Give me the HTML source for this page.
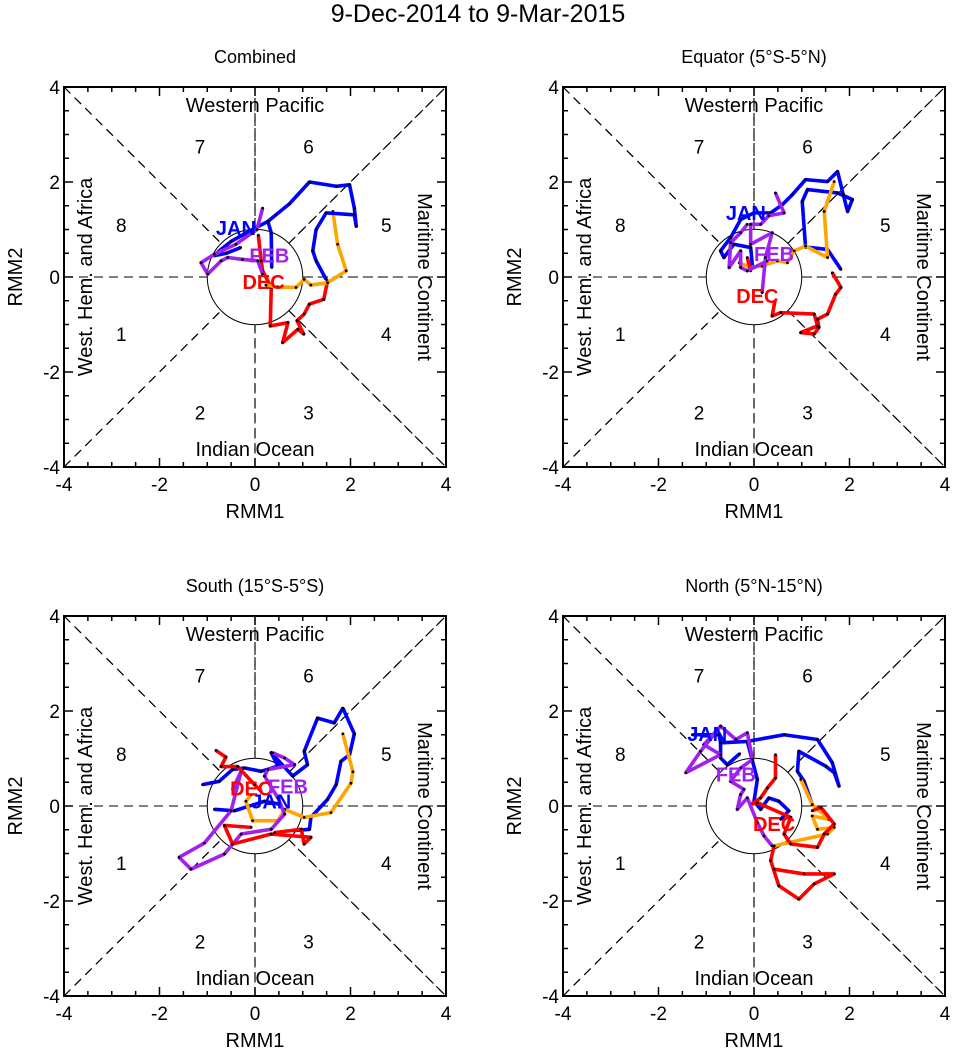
<!DOCTYPE html>
<html><head><meta charset="utf-8">
<style>
html,body{margin:0;padding:0;background:#fff;}
svg{display:block;font-family:"Liberation Sans",Arial,sans-serif;}
</style></head>
<body>
<svg id="chart" width="956" height="1057" viewBox="0 0 956 1057" xmlns="http://www.w3.org/2000/svg">
<text x="478" y="22" font-size="25" text-anchor="middle">9-Dec-2014 to 9-Mar-2015</text>
</svg>
<script>
// ---- data (RMM1, RMM2 pairs) ----
const panelTitles = ["Combined", "Equator (5°S-5°N)", "South (15°S-5°S)", "North (5°N-15°N)"];
const tickValues = [-4, -2, 0, 2, 4];
const phaseLabels = ["1","2","3","4","5","6","7","8"];

const p1Red = [[0.07,0.88],[0.13,0.34],[0.16,0.13],[0.34,-0.22],[0.32,-1.03],[0.69,-0.96],[0.58,-1.38],[0.90,-1.10],[1.02,-1.20],[0.88,-0.92],[1.03,-0.78],[1.14,-0.57],[1.44,-0.47],[1.52,-0.08]];
const p1Orange = [[1.63,1.38],[1.73,0.69],[1.91,0.13],[1.52,-0.12],[1.17,-0.17],[1.03,-0.05],[0.86,-0.22],[0.47,-0.21],[0.23,-0.17]];
const p1Blue = [[1.49,-0.05],[1.28,0.34],[1.21,0.55],[1.28,1.0],[1.49,1.35],[2.08,1.31],[2.12,1.07],[2.08,1.45],[1.98,1.94],[1.70,1.91],[1.14,2.0],[0.72,1.54],[0.44,1.31],[0.27,1.17],[0.34,0.93],[0.35,0.20]];
const p1Blue2 = [[0.27,1.17],[-0.05,1.0],[-0.5,0.75],[-0.75,0.55],[-0.85,0.45],[-0.6,0.5],[-0.3,0.62]];
const p1Purple = [[0.16,1.45],[0.04,1.0],[-0.4,0.69],[-0.85,0.48],[-1.13,0.3],[-0.99,0.06],[-0.71,0.34],[-0.57,0.41],[-0.26,0.37],[0.06,0.34],[0.16,0.06]];

const p2Blue = [[1.82,0.16],[1.54,0.58],[1.08,0.63],[1.01,1.59],[1.12,1.84],[1.75,1.77],[2.06,1.63],[1.96,1.38],[1.87,1.73],[1.75,2.22],[1.54,2.01],[1.08,2.05],[0.80,1.73],[0.59,1.52],[0.35,1.35],[0.0,1.35],[-0.28,1.21],[-0.49,0.83],[-0.70,0.55],[-0.63,0.41],[-0.42,0.69],[-0.07,0.62],[-0.03,0.20]];
const p2Orange = [[1.68,2.01],[1.47,1.38],[1.54,0.41],[1.08,0.65],[0.84,0.55],[0.70,0.30],[0.49,0.34],[0.17,0.23],[-0.07,0.20],[-0.31,0.30]];
const p2Red = [[1.64,0.09],[1.82,-0.22],[1.71,-0.36],[1.54,-0.78],[1.33,-0.89],[1.36,-1.06],[1.26,-1.20],[0.98,-1.17],[1.33,-1.03],[1.26,-0.78],[0.56,-0.75],[0.38,-0.82],[0.44,-0.50]];
const p2Red2 = [[-0.14,0.41],[-0.07,0.13]];
const p2Purple = [[0.45,1.77],[0.63,1.35],[0.31,1.29],[0.14,1.11],[-0.07,1.11],[-0.07,0.69],[0.38,0.93],[0.24,0.41],[0.17,-0.33]];
const p2Purple2 = [[-0.14,1.11],[-0.28,0.93],[-0.49,0.72],[-0.52,0.20],[-0.28,0.55],[-0.28,0.20],[-0.14,0.13],[0.28,0.34]];

const p3Blue = [[1.84,2.06],[2.08,1.52],[1.98,1.08],[1.80,0.94],[1.70,0.45],[1.52,0.14],[1.17,-0.24],[1.14,-0.49],[0.79,-0.52]];
const p3Blue2 = [[1.84,2.06],[1.66,1.75],[1.31,1.85],[1.03,1.15],[1.10,0.87],[0.79,0.63],[0.34,1.12],[0.48,0.84],[0.13,0.73],[-0.22,0.80],[-0.47,0.77],[-0.75,0.52],[-1.10,0.45]];
const p3Blue3 = [[-0.85,-0.07],[-0.43,-0.10],[0.20,0.10],[0.55,0.03]];
const p3Orange = [[1.84,1.52],[2.05,0.72],[2.01,0.48],[1.59,-0.14],[1.03,-0.24],[0.62,-0.07],[0.48,-0.31],[-0.05,-0.31],[-0.19,0.10],[-0.08,0.24]];
const p3Purple = [[-1.59,-1.08],[-1.34,-1.33],[-0.64,-1.01],[-0.29,-0.59],[0.34,-0.49],[0.62,-0.17],[0.48,0.17],[0.20,0.63],[0.27,0.77],[0.83,0.87],[0.62,1.01],[0.37,1.12]];
const p3Purple2 = [[-1.59,-1.08],[-1.06,-0.78],[-0.50,-0.10],[-0.29,0.73],[-0.47,0.35]];
const p3Red = [[-0.82,1.17],[-0.61,1.03],[-0.71,0.83],[-0.36,0.83],[-0.01,0.45],[0.13,0.31]];
const p3Red2 = [[-0.08,-0.45],[-0.64,-0.41],[-0.47,-0.80],[0.34,-0.59],[1.17,-0.66],[1.03,-0.80],[0.97,-0.49],[0.41,-0.56]];

const p4Blue = [[-1.29,1.50],[-0.73,1.50],[-0.70,1.33],[-0.14,1.36],[0.63,1.50],[1.33,1.40],[1.64,0.91],[1.78,0.42],[1.68,0.70],[1.50,0.84],[0.94,1.15],[0.91,0.73],[1.05,0.52],[1.22,0.03]];
const p4Blue2 = [[-0.14,1.36],[-0.03,0.94],[0.07,0.56],[0.0,0.10],[0.14,-0.07],[0.31,0.17],[0.52,0.10],[0.73,-0.10],[0.56,-0.28]];
const p4Blue3 = [[-0.70,1.33],[-0.70,1.01],[-0.56,0.87],[-0.3,1.1]];
const p4Orange = [[0.98,0.56],[1.22,0.03],[1.57,-0.28],[1.22,-0.21],[1.33,-0.49],[1.68,-0.45],[1.54,-0.59],[0.42,-0.84]];
const p4Red = [[0.45,1.08],[0.45,0.59],[0.28,0.38],[0.14,0.17],[-0.07,0.03],[0.07,0.07],[0.77,-0.24],[0.63,-0.59],[0.77,-0.80],[1.33,-0.87],[1.47,-0.59],[1.68,-0.38],[1.40,-0.03],[1.22,-0.10]];
const p4Red2 = [[0.42,-0.84],[0.35,-1.15],[0.52,-1.68],[0.94,-1.96],[1.26,-1.64],[1.68,-1.43],[1.05,-1.43],[0.42,-1.33]];
const p4Purple = [[-1.43,0.70],[-0.70,1.08],[-1.05,1.29],[-0.70,1.68],[-0.38,1.40],[-0.14,1.54],[-0.03,0.98],[-0.28,0.80],[-0.49,0.52],[-0.21,0.35],[-0.28,0.24],[-0.35,-0.07],[-0.14,0.17],[0.07,-0.35],[0.21,-0.63],[0.38,-0.84]];
const p4Purple2 = [[-1.43,0.70],[-1.12,1.15],[-0.70,1.68]];

const series = [
 [["#ff0000",p1Red],["#ffa500",p1Orange],["#0000ff",p1Blue],["#0000ff",p1Blue2],["#a020f0",p1Purple]],
 [["#0000ff",p2Blue],["#ffa500",p2Orange],["#ff0000",p2Red],["#ff0000",p2Red2],["#a020f0",p2Purple],["#a020f0",p2Purple2]],
 [["#0000ff",p3Blue],["#0000ff",p3Blue2],["#0000ff",p3Blue3],["#ffa500",p3Orange],["#a020f0",p3Purple],["#a020f0",p3Purple2],["#ff0000",p3Red],["#ff0000",p3Red2]],
 [["#0000ff",p4Blue],["#0000ff",p4Blue2],["#0000ff",p4Blue3],["#ffa500",p4Orange],["#ff0000",p4Red],["#ff0000",p4Red2],["#a020f0",p4Purple],["#a020f0",p4Purple2]]
];
// month labels [text, color, x, y]
const monthLabels = [
 [["JAN","#0000ff",-0.4,1.03],["FEB","#a020f0",0.3,0.45],["DEC","#ff0000",0.18,-0.1]],
 [["JAN","#0000ff",-0.17,1.35],["FEB","#a020f0",0.42,0.48],["DEC","#ff0000",0.07,-0.40]],
 [["DEC","#ff0000",-0.08,0.37],["FEB","#a020f0",0.69,0.41],["JAN","#0000ff",0.34,0.10]],
 [["JAN","#0000ff",-0.98,1.52],["FEB","#a020f0",-0.38,0.66],["DEC","#ff0000",0.42,-0.38]]
];

const NS = "http://www.w3.org/2000/svg";
const svg = document.getElementById("chart");
const origins = [[64,87],[563,87],[64,616],[563,616]];
const W = 382, H = 380;
function mk(tag, attrs, parent){ const e=document.createElementNS(NS,tag); for(const k in attrs) e.setAttribute(k,attrs[k]); (parent||svg).appendChild(e); return e; }

origins.forEach((o,pi)=>{
  const g = mk("g",{});
  
  
  const sx = v => o[0] + (v+4)/8*W;
  const sy = v => o[1] + (4-v)/8*H;
  const cx = sx(0), cy = sy(0);
  const t = mk("text",{x:cx,y:o[1]-24,"font-size":18,"text-anchor":"middle"},g); t.textContent = panelTitles[pi];
  
  
  const dash = {stroke:"#000","stroke-width":1.1,"stroke-dasharray":"9,6",fill:"none"};
  [[sx(-4),sy(-4),sx(4),sy(4)],[sx(-4),sy(4),sx(4),sy(-4)],[sx(-4),cy,sx(4),cy],[cx,sy(-4),cx,sy(4)]].forEach(l=>{
    const ln = mk("line",Object.assign({x1:l[0],y1:l[1],x2:l[2],y2:l[3]},dash),g);
    
    
  });
  const c = mk("circle",{cx:cx,cy:cy,r:(sx(1)-cx),fill:"#fff",stroke:"#000","stroke-width":1},g);
  
  
  [[sx(-4),sy(-4),sx(-0.71),sy(-0.71)],[sx(0.71),sy(0.71),sx(4),sy(4)],[sx(-4),sy(4),sx(-0.71),sy(0.71)],[sx(0.71),sy(-0.71),sx(4),sy(-4)],[sx(-4),cy,sx(-1),cy],[sx(1),cy,sx(4),cy],[cx,sy(4),cx,sy(1)],[cx,sy(-1),cx,sy(-4)]].forEach(l=>{
    mk("line",Object.assign({x1:l[0],y1:l[1],x2:l[2],y2:l[3]},dash),g);
  });
  const fr = mk("rect",{x:o[0],y:o[1],width:W,height:H,fill:"none",stroke:"#000","stroke-width":2},g);
  
  
  for(let v=-4; v<=4.001; v+=0.5){
    const major = Math.abs(v-Math.round(v/2)*2)<0.01;
    const L = major?9:5;
    mk("line",{x1:sx(v),y1:o[1]+H,x2:sx(v),y2:o[1]+H-L,stroke:"#000","stroke-width":1.5},g);
    mk("line",{x1:sx(v),y1:o[1],x2:sx(v),y2:o[1]+L,stroke:"#000","stroke-width":1.5},g);
    mk("line",{x1:o[0],y1:sy(v),x2:o[0]+L,y2:sy(v),stroke:"#000","stroke-width":1.5},g);
    mk("line",{x1:o[0]+W,y1:sy(v),x2:o[0]+W-L,y2:sy(v),stroke:"#000","stroke-width":1.5},g);
  }
  tickValues.forEach(v=>{
    const tx = mk("text",{x:sx(v),y:o[1]+H+24,"font-size":19,"text-anchor":"middle"},g); tx.textContent=String(v);
    
    
    const ty = mk("text",{x:o[0]-4,y:sy(v)+7,"font-size":19,"text-anchor":"end"},g); ty.textContent=String(v);
    
    
  });
  const xt = mk("text",{x:cx,y:o[1]+H+51,"font-size":20,"text-anchor":"middle"},g); xt.textContent="RMM1";
  
  
  const yt = mk("text",{x:0,y:0,"font-size":20,"text-anchor":"middle",transform:`translate(${o[0]-42},${cy}) rotate(-90)`},g); yt.textContent="RMM2";
  
  
  const wp = mk("text",{x:cx,y:o[1]+25,"font-size":20,"text-anchor":"middle"},g); wp.textContent="Western Pacific";
  
  
  const io = mk("text",{x:cx,y:o[1]+H-11,"font-size":20,"text-anchor":"middle"},g); io.textContent="Indian Ocean";
  
  
  const wh = mk("text",{x:0,y:0,"font-size":20,"text-anchor":"middle",transform:`translate(${o[0]+28},${cy}) rotate(-90)`},g); wh.textContent="West. Hem. and Africa";
  
  
  const mc = mk("text",{x:0,y:0,"font-size":20,"text-anchor":"middle",transform:`translate(${o[0]+W-28},${cy}) rotate(90)`},g); mc.textContent="Maritime Continent";
  
  
  const phasePos = [[-2.8,-1.2],[-1.15,-2.85],[1.12,-2.85],[2.75,-1.2],[2.75,1.1],[1.12,2.75],[-1.15,2.75],[-2.8,1.1]];
  phaseLabels.forEach((p,i)=>{
    const pt = mk("text",{x:sx(phasePos[i][0]),y:sy(phasePos[i][1])+7,"font-size":19,"text-anchor":"middle"},g); pt.textContent=p;
    
    
  });
  series[pi].forEach(([col,pts])=>{
    const pl = mk("polyline",{points:pts.map(p=>sx(p[0])+","+sy(p[1])).join(" "),fill:"none",stroke:col,"stroke-width":3.6,"stroke-linejoin":"round"},g);
    
    
    pts.forEach(p=>{
      const d = mk("circle",{cx:sx(p[0]),cy:sy(p[1]),r:1.4,fill:"#000"},g);
      
      
    });
  });
  monthLabels[pi].forEach(([txt,col,x,y])=>{
    const ml = mk("text",{x:sx(x),y:sy(y)+7,"font-size":20,"font-weight":"bold",fill:col,"text-anchor":"middle"},g); ml.textContent=txt;
    
    
  });
});
</script>
</body></html>
